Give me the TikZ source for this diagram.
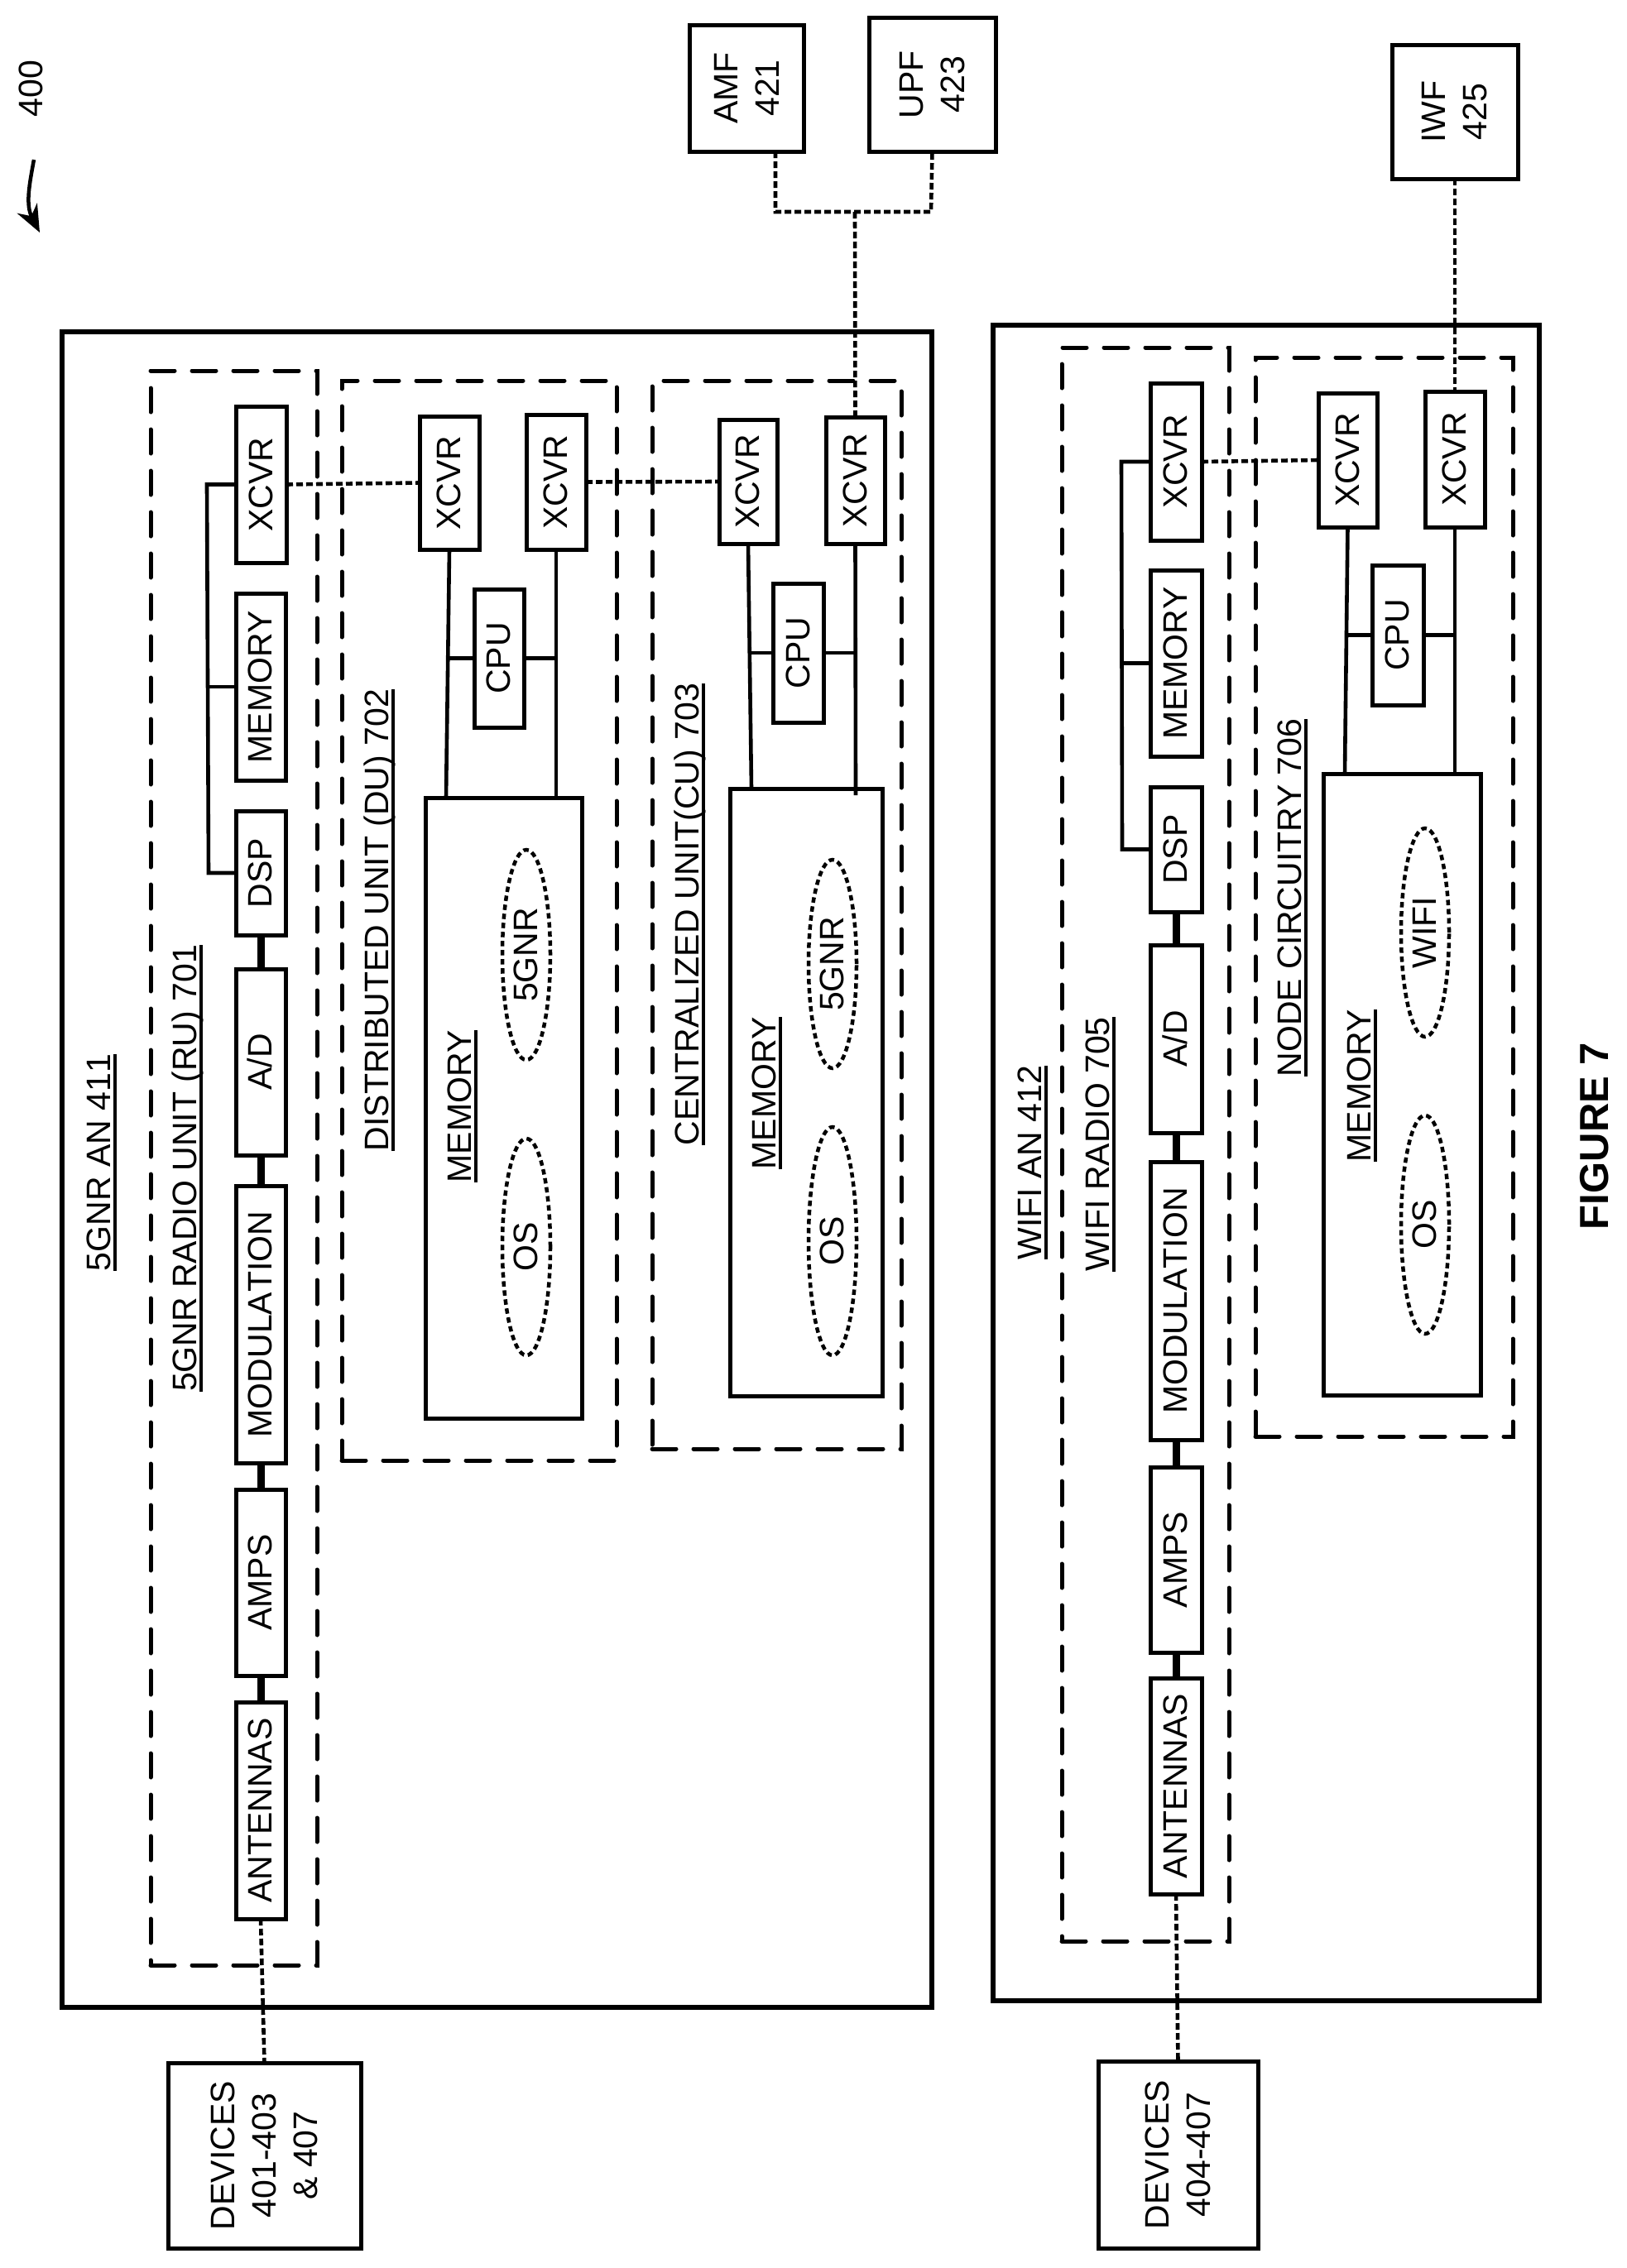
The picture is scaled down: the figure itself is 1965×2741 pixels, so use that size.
\documentclass[tikz,border=0pt]{standalone}
\usepackage{fontspec}
\setmainfont[Kerning=Off]{Liberation Sans}
\usetikzlibrary{arrows.meta,shapes.geometric}
\tikzset{
  base/.style={inner sep=0pt,outer sep=0pt,font=\fontsize{41}{50}\selectfont},
  boxst/.style={base,draw,line width=5pt},
  outerst/.style={base,draw,line width=6pt},
  dashst/.style={base,draw,line width=5pt,line cap=round,dash pattern=on 29pt off 21pt},
  ovalst/.style={base,ellipse,draw,line width=4.5pt,dash pattern=on 6.5pt off 4.5pt},
  lblst/.style={base},
  wirest/.style={line width=4.6pt},
  chainst/.style={line width=9pt},
  linkst/.style={line width=4.6pt,dash pattern=on 8pt off 4pt},
}
\newcommand\capt[1]{\rule{0pt}{27pt}\smash{#1}}
\newcommand\rot[1]{\rotatebox{90}{\capt{#1}}}
\newcommand\ult[1]{\setbox0\hbox{#1}\rlap{\rule[-8pt]{\wd0}{4pt}}\box0 }
\newcommand\rotu[1]{\rotatebox{90}{\rule{0pt}{30pt}\smash{\ult{#1}}}}
\newcommand\rotm[1]{\rotatebox{90}{\vbox{\baselineskip=50pt\lineskiplimit=-100pt\halign{\hfil##\hfil\cr #1\cr}}}}
% name x0 y0 x1 y1 text
\newcommand\mybox[7][boxst]{\node[#1,minimum width={#5-#3},minimum height={#6-#4}] (#2) at ({(#3+#5)/2},{(#4+#6)/2}) {#7};}
\newcommand\myoval[5]{\node[ovalst,minimum width=58pt,minimum height={2*#4}] (#1) at (#2,#3) {\rot{#5}};}
\newcommand\mylbl[4]{\node[lblst] (#1) at ({#2+1},#3) {\rotu{#4}};}
\begin{document}
\begin{tikzpicture}[x=1pt,y=-1pt]
\useasboundingbox (0,0) rectangle (1965,2741);
% reference number
\node[lblst] (fignum) at (38,107) {\rot{400}};
\coordinate (ar0) at (41,193);
\coordinate (ar1) at (48,281);
\draw[line width=4.5pt,-{Stealth[length=33pt,width=27pt]}] (ar0) .. controls (35,225) and (31,248) .. (ar1);
% core functions
\mybox{amf}{833}{30}{971}{183}{\rotm{AMF\cr 421}}
\mybox{upf}{1050}{21}{1203}{183}{\rotm{UPF\cr 423}}
\mybox{iwf}{1682}{54}{1834}{216}{\rotm{IWF\cr 425}}
% access nodes
\mybox[outerst]{an5g}{75}{401}{1126}{2426}{}
\mybox[outerst]{anwifi}{1200}{393}{1860}{2418}{}
\mylbl{an5gl}{117}{1405}{5GNR AN 411}
\mylbl{anwifil}{1242}{1405}{WIFI AN 412}
% dashed groups
\mybox[dashst]{ru}{182}{448}{383}{2375}{}
\mybox[dashst]{du}{413}{460}{745}{1765}{}
\mybox[dashst]{cu}{788}{460}{1089}{1751}{}
\mybox[dashst]{wr}{1283}{420}{1485}{2346}{}
\mybox[dashst]{nc}{1517}{432}{1828}{1736}{}
\mylbl{rul}{221}{1412}{5GNR RADIO UNIT (RU) 701}
\mylbl{dul}{453}{1112}{DISTRIBUTED UNIT (DU) 702}
\mylbl{cul}{828}{1105}{CENTRALIZED UNIT(CU) 703}
\mylbl{wrl}{1324}{1383}{WIFI RADIO 705}
\mylbl{ncl}{1556}{1085}{NODE CIRCUITRY 706}
% 5GNR radio
\mybox{rux}{285}{491}{346}{680}{\rot{XCVR}}
\mybox{rumem}{285}{717}{345}{943}{\rot{MEMORY}}
\mybox{rudsp}{285}{980}{345}{1130}{\rot{DSP}}
\mybox{ruad}{285}{1171}{345}{1396}{\rot{A/D}}
\mybox{rumod}{285}{1433}{345}{1768}{\rot{MODULATION}}
\mybox{ruamp}{285}{1800}{345}{2025}{\rot{AMPS}}
\mybox{ruant}{285}{2057}{345}{2319}{\rot{ANTENNAS}}
\coordinate (rub0) at (250,585.5);
\coordinate (rub1) at (252,1055);
\coordinate (rub2) at (251,830);
\draw[wirest] (rux.west) -- (rub0) -- (rub1) -- (rudsp.west);
\draw[wirest] (rub2) -- (rumem.west);
\draw[chainst] (rudsp.south) -- (ruad.north);
\draw[chainst] (ruad.south) -- (rumod.north);
\draw[chainst] (rumod.south) -- (ruamp.north);
\draw[chainst] (ruamp.south) -- (ruant.north);
% DU
\mybox{dux1}{507}{503}{579}{664}{\rot{XCVR}}
\mybox{dux2}{636}{501}{708}{664}{\rot{XCVR}}
\mybox{ducpu}{573}{712}{633}{879}{\rot{CPU}}
\mybox{dum}{514}{964}{703}{1714}{}
\mylbl{duml}{553}{1337}{MEMORY}
\myoval{du5g}{636}{1154}{127}{5GNR}
\myoval{duos}{636}{1507}{131}{OS}
\coordinate (dua) at (539,964);
\coordinate (dub) at (541,795.5);
\draw[wirest] (dux1.south) -- (dua);
\draw[wirest] (dux2.south) -- (dux2.south |- dum.north);
\draw[wirest] (dub) -- (ducpu.west);
\draw[wirest] (ducpu.east) -- (ducpu.east -| dux2.south);
% CU
\mybox{cux1}{869}{507}{939}{657}{\rot{XCVR}}
\mybox{cux2}{998}{504}{1069}{657}{\rot{XCVR}}
\mybox{cucpu}{934}{705}{995}{873}{\rot{CPU}}
\mybox{cum}{882}{953}{1066}{1687}{}
\mylbl{cuml}{921}{1321}{MEMORY}
\myoval{cu5g}{1006}{1165}{126}{5GNR}
\myoval{cuos}{1006}{1500}{138}{OS}
\coordinate (cua) at (908,953);
\coordinate (cub) at (906,789);
\coordinate (cuc) at (1034,961);
\draw[wirest] (cux1.south) -- (cua);
\draw[wirest] (cux2.south) -- (cuc);
\draw[wirest] (cub) -- (cucpu.west);
\draw[wirest] (cucpu.east) -- (cucpu.east -| cux2.south);
% WiFi radio
\mybox{wrx}{1390}{463}{1452}{653}{\rot{XCVR}}
\mybox{wrmem}{1390}{689}{1452}{914}{\rot{MEMORY}}
\mybox{wrdsp}{1390}{951}{1452}{1102}{\rot{DSP}}
\mybox{wrad}{1390}{1142}{1452}{1369}{\rot{A/D}}
\mybox{wrmod}{1390}{1404}{1452}{1740}{\rot{MODULATION}}
\mybox{wramp}{1390}{1773}{1452}{1997}{\rot{AMPS}}
\mybox{wrant}{1390}{2028}{1452}{2289}{\rot{ANTENNAS}}
\coordinate (wrb0) at (1355,558);
\coordinate (wrb1) at (1356,1026.5);
\coordinate (wrb2) at (1355.5,801.5);
\draw[wirest] (wrx.west) -- (wrb0) -- (wrb1) -- (wrdsp.west);
\draw[wirest] (wrb2) -- (wrmem.west);
\draw[chainst] (wrdsp.south) -- (wrad.north);
\draw[chainst] (wrad.south) -- (wrmod.north);
\draw[chainst] (wrmod.south) -- (wramp.north);
\draw[chainst] (wramp.south) -- (wrant.north);
% node circuitry
\mybox{ncx1}{1593}{475}{1664}{637}{\rot{XCVR}}
\mybox{ncx2}{1722}{473}{1794}{637}{\rot{XCVR}}
\mybox{nccpu}{1658}{683}{1720}{852}{\rot{CPU}}
\mybox{ncm}{1599}{935}{1789}{1686}{}
\mylbl{ncml}{1640}{1312}{MEMORY}
\myoval{ncwf}{1722}{1127}{126}{WIFI}
\myoval{ncos}{1722}{1480}{132}{OS}
\coordinate (nca) at (1625,935);
\coordinate (ncb) at (1627,767.5);
\draw[wirest] (ncx1.south) -- (nca);
\draw[wirest] (ncx2.south) -- (ncx2.south |- ncm.north);
\draw[wirest] (ncb) -- (nccpu.west);
\draw[wirest] (nccpu.east) -- (nccpu.east -| ncx2.south);
% devices
\mybox{dev1}{203}{2493}{436}{2717}{\rotm{DEVICES\cr 401-403\cr \& 407}}
\mybox{dev2}{1327}{2491}{1520}{2717}{\rotm{DEVICES\cr 404-407}}
% dotted links
\coordinate (amfb) at (937,183);
\coordinate (amfc) at (937,256);
\coordinate (upfc) at (1125,256);
\coordinate (junc) at (1033,256);
\draw[linkst] (amfb) -- (amfc) -- (upfc) -- (upf.south);
\draw[linkst] (junc) -- (cux2.north);
\draw[linkst] (iwf.south) -- (ncx2.north);
\draw[linkst] (rux.east) -- (dux1.west);
\draw[linkst] (dux2.east) -- (cux1.west);
\draw[linkst] (wrx.east) -- (ncx1.west);
\draw[linkst] (ruant.south) -- (dev1.north);
\draw[linkst] (wrant.south) -- (dev2.north);
% title
\node[base,font=\fontsize{49}{55}\selectfont\bfseries] (figtitle) at (1926,1373) {\rotatebox{90}{\rule{0pt}{35pt}\smash{FIGURE 7}}};
\end{tikzpicture}
\end{document}
